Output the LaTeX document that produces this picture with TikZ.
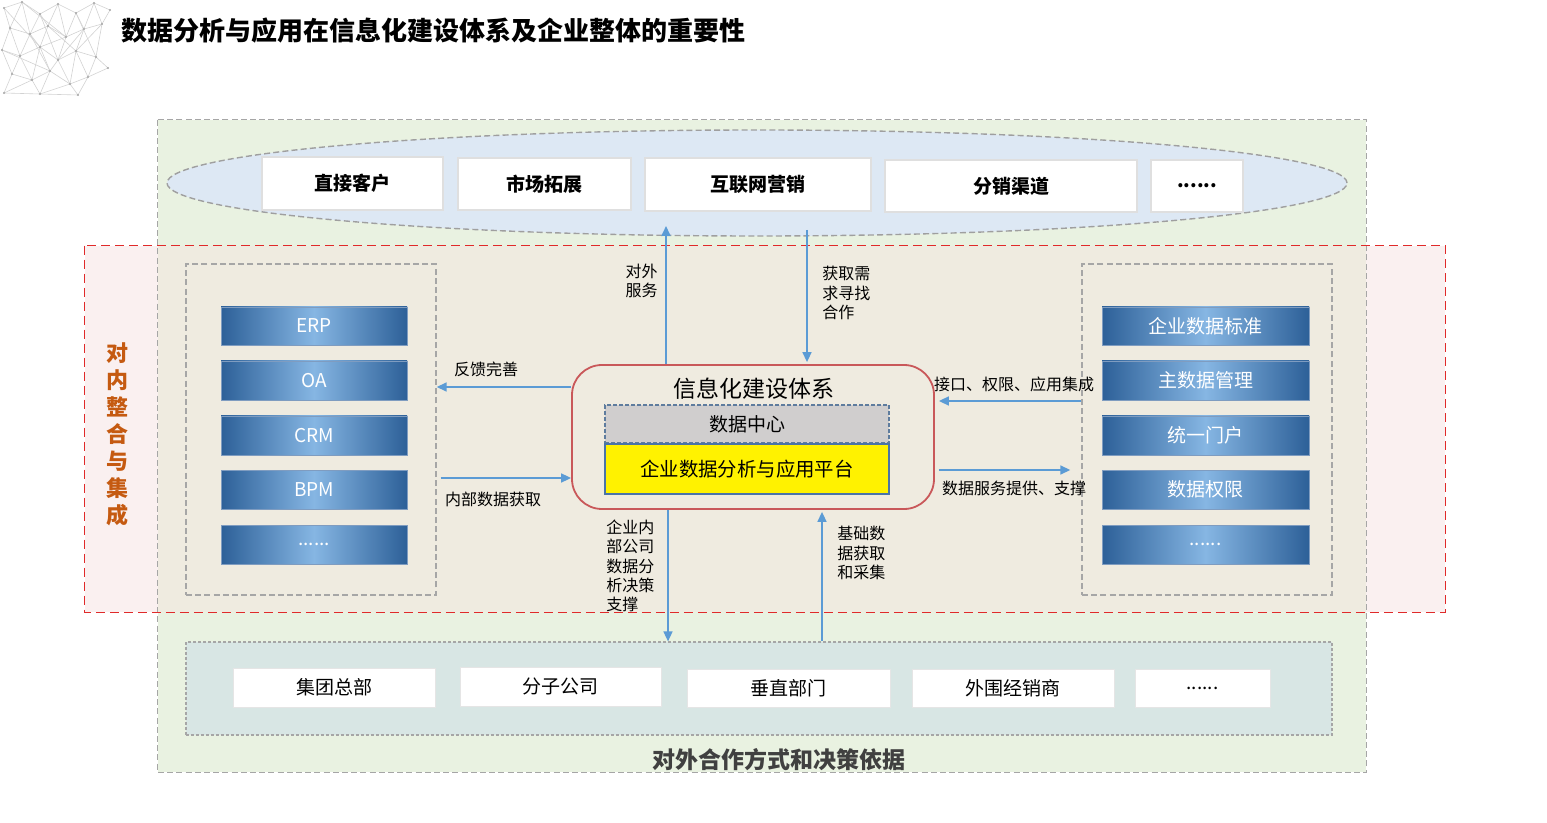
\documentclass[tikz,border=0pt]{standalone}
\usepackage{fontspec}
\setmainfont{Noto Sans CJK SC}
\usetikzlibrary{arrows.meta,fit,shapes.geometric}
\definecolor{pinkbg}{HTML}{FAF0F0}
\definecolor{greenbg}{HTML}{E9F2E1}
\definecolor{beigebg}{HTML}{EFEBE0}
\definecolor{ellbg}{HTML}{DDE8F4}
\definecolor{botbg}{HTML}{D8E6E4}
\definecolor{redd}{HTML}{E02A2A}
\definecolor{orangetxt}{HTML}{C55A11}
\definecolor{arrblue}{HTML}{5B9BD5}
\definecolor{cred}{HTML}{C9585A}
\definecolor{barDark}{HTML}{2D6098}
\definecolor{barMid}{HTML}{86B6E3}
\definecolor{barEdge}{HTML}{7F9CC0}
\definecolor{dcgray}{HTML}{D0CECE}
\definecolor{dcedge}{HTML}{5E7C9E}
\definecolor{yedge}{HTML}{4A74A8}
\definecolor{darktxt}{HTML}{404040}
\begin{document}
\begin{tikzpicture}[x=0.5pt,y=-0.5pt,
  meshline/.style={gray!35,line width=0.3pt},
  graydash/.style={draw=gray!70,line width=0.7pt,dash pattern=on 3pt off 1.6pt},
  reddash/.style={draw=redd,line width=0.8pt,dash pattern=on 4.5pt off 2.5pt},
  topbox/.style={inner sep=0,fill=white,draw=gray!25,line width=0.6pt},
  toptxt/.style={inner sep=0,font=\bfseries\fontsize{9.5pt}{11pt}\selectfont},
  bar/.style={inner sep=0,draw=barEdge,line width=0.4pt,left color=barDark,right color=barDark,middle color=barMid},
  bartxt/.style={inner sep=0,text=white,font=\fontsize{9.5pt}{11pt}\selectfont},
  botbox/.style={inner sep=0,fill=white,draw=gray!20,line width=0.5pt},
  bottxt/.style={inner sep=0,font=\fontsize{9.5pt}{11pt}\selectfont},
  lab/.style={inner sep=0,align=left,font=\fontsize{8pt}{9.6pt}\selectfont},
  arr/.style={draw=arrblue,line width=0.8pt,-{Triangle[length=5pt,width=4.5pt]}},
]
\useasboundingbox (0,0) rectangle (1547,823);

% decorative mesh
\foreach \n/\x/\y in {1/4/8,2/22/2,3/40/14,4/58/4,5/76/13,6/94/3,7/110/10,
 8/10/28,9/30/34,10/48/26,11/66/37,12/84/29,13/102/24,
 14/2/50,15/20/56,16/40/47,17/58/60,18/76/51,19/96/57,
 20/12/74,21/32/80,22/50/71,23/70/84,24/88/77,25/108/68,
 26/4/93,27/40/94,28/78/95}
  \coordinate (p\n) at (\x,\y);
\foreach \a/\b in {1/2,2/3,3/4,4/5,5/6,6/7,8/9,9/10,10/11,11/12,12/13,
 14/15,15/16,16/17,17/18,18/19,20/21,21/22,22/23,23/24,24/25,26/27,27/28,
 1/8,2/8,2/9,3/9,3/10,4/10,4/11,5/11,5/12,6/12,6/13,7/13,
 8/14,8/15,9/15,9/16,10/16,11/16,11/17,12/17,12/18,13/18,13/19,
 14/20,15/20,15/21,16/21,16/22,17/22,17/23,18/23,18/24,19/24,19/25,
 20/26,21/26,21/27,22/27,23/27,23/28,24/28,1/16,3/17,9/22,10/18,5/19,2/11,14/22}
  \draw[meshline] (p\a) -- (p\b);
\foreach \n in {1,...,28} \fill[gray!70] (p\n) circle (0.6pt);

% title
\node[anchor=west,inner sep=0,font=\bfseries\fontsize{13pt}{15pt}\selectfont] (title) at (121,31) {数据分析与应用在信息化建设体系及企业整体的重要性};

% background zones
\node[fit={(85,246)(1445,612)},inner sep=0,fill=pinkbg] (redzone) {};
\node[fit={(158,120)(1366,772)},inner sep=0,fill=greenbg] (outer) {};
\fill[beigebg] (outer.west |- redzone.north) rectangle (outer.east |- redzone.south);
\draw[graydash] (outer.north west) rectangle (outer.south east);
\draw[reddash] (redzone.north west) rectangle (redzone.south east);

% vertical label
\node[inner sep=0,align=center,text=orangetxt,font=\bfseries\fontsize{11pt}{13.5pt}\selectfont] (vlab) at (117,434) {对\\内\\整\\合\\与\\集\\成};

% ellipse with external partners
\node[ellipse,fill=ellbg,draw=gray!75,line width=0.7pt,dash pattern=on 3pt off 1.6pt,minimum width=590pt,minimum height=53pt,inner sep=0] (ell) at (757,183) {};
\node[topbox,fit={(262,157)(443,210)}] (t1) {};
\node[topbox,fit={(458,158)(631,210)}] (t2) {};
\node[topbox,fit={(645,158)(871,211)}] (t3) {};
\node[topbox,fit={(885,160)(1137,212)}] (t4) {};
\node[topbox,fit={(1151,160)(1243,212)}] (t5) {};
\node[toptxt] (t1x) at (t1) {直接客户};
\node[toptxt] (t2x) at (t2) {市场拓展};
\node[toptxt] (t3x) at (t3) {互联网营销};
\node[toptxt] (t4x) at (t4) {分销渠道};
\node[toptxt] (t5x) at (t5) {......};

% left system group
\node[fit={(186,264)(436,595)},inner sep=0,graydash] (lbox) {};
\node[bar,fit={(221,307)(407,345)}] (l1) {};
\node[bar,fit={(221,361)(407,400)}] (l2) {};
\node[bar,fit={(221,416)(407,455)}] (l3) {};
\node[bar,fit={(221,470)(407,509)}] (l4) {};
\node[bar,fit={(221,525)(407,564)}] (l5) {};
\node[bartxt] (l1x) at (l1) {ERP};
\node[bartxt] (l2x) at (l2) {OA};
\node[bartxt] (l3x) at (l3) {CRM};
\node[bartxt] (l4x) at (l4) {BPM};
\node[bartxt] (l5x) at (l5) {......};

% right system group
\node[fit={(1082,264)(1332,595)},inner sep=0,graydash] (rbox) {};
\node[bar,fit={(1102,307)(1309,345)}] (r1) {};
\node[bar,fit={(1102,361)(1309,400)}] (r2) {};
\node[bar,fit={(1102,416)(1309,455)}] (r3) {};
\node[bar,fit={(1102,470)(1309,509)}] (r4) {};
\node[bar,fit={(1102,525)(1309,564)}] (r5) {};
\node[bartxt] (r1x) at (r1) {企业数据标准};
\node[bartxt] (r2x) at (r2) {主数据管理};
\node[bartxt] (r3x) at (r3) {统一门户};
\node[bartxt] (r4x) at (r4) {数据权限};
\node[bartxt] (r5x) at (r5) {......};

% center
\node[fit={(572,365)(934,509)},inner sep=0,draw=cred,line width=0.9pt,rounded corners=15pt,fill=beigebg] (cbox) {};
\node[inner sep=0,font=\fontsize{11.5pt}{13pt}\selectfont] (ctitle) at (754,389) {信息化建设体系};
\node[fit={(605,405)(889,443)},inner sep=0,fill=dcgray,draw=dcedge,line width=0.6pt,dash pattern=on 2pt off 1pt] (dc) {};
\node[fit={(605,444)(889,494)},inner sep=0,fill=yellow,draw=yedge,line width=0.7pt] (plat) {};
\node[bottxt] (dcx) at (dc) {数据中心};
\node[inner sep=0,font=\fontsize{9.7pt}{11pt}\selectfont] (platx) at (plat) {企业数据分析与应用平台};

% bottom group
\node[fit={(186,642)(1332,735)},inner sep=0,fill=botbg,draw=gray!70,line width=0.6pt,dash pattern=on 1.5pt off 1pt] (bbox) {};
\node[botbox,fit={(233,668)(435,707)}] (b1) {};
\node[botbox,fit={(460,667)(661,706)}] (b2) {};
\node[botbox,fit={(687,669)(890,707)}] (b3) {};
\node[botbox,fit={(912,669)(1114,707)}] (b4) {};
\node[botbox,fit={(1135,669)(1270,707)}] (b5) {};
\node[bottxt] (b1x) at (b1) {集团总部};
\node[bottxt] (b2x) at (b2) {分子公司};
\node[bottxt] (b3x) at (b3) {垂直部门};
\node[bottxt] (b4x) at (b4) {外围经销商};
\node[bottxt] (b5x) at (b5) {......};
\node[inner sep=0,text=darktxt,font=\bfseries\fontsize{11.5pt}{13pt}\selectfont] (blab) at (779,760) {对外合作方式和决策依据};

% connectors
\coordinate (upA) at (666,226);
\coordinate (dnA) at (807,230);
\coordinate (fbY) at (0,387);
\coordinate (inY) at (0,478);
\coordinate (ifY) at (0,401);
\coordinate (dsY) at (0,470);
\coordinate (dnB) at (668,0);
\coordinate (upB) at (822,0);
\draw[arr] (cbox.north -| upA) -- (upA);
\draw[arr] (dnA) -- ([yshift=1pt]cbox.north -| dnA);
\draw[arr] (cbox.west |- fbY) -- (lbox.east |- fbY);
\draw[arr] ([xshift=2pt]lbox.east |- inY) -- (cbox.west |- inY);
\draw[arr] (rbox.west |- ifY) -- ([xshift=2pt]cbox.east |- ifY);
\draw[arr] ([xshift=2pt]cbox.east |- dsY) -- ([xshift=-5.5pt]rbox.west |- dsY);
\draw[arr] (cbox.south -| dnB) -- (bbox.north -| dnB);
\draw[arr] (bbox.north -| upB) -- ([yshift=-1pt]cbox.south -| upB);

% connector labels
\node[lab,anchor=east] (l_out) at (658,281) {对外\\服务};
\node[lab,anchor=west] (l_need) at (822,293) {获取需\\求寻找\\合作};
\node[lab] (l_fb) at (486,369) {反馈完善};
\node[lab] (l_in) at (493,499) {内部数据获取};
\node[lab] (l_if) at (1014,384) {接口、权限、应用集成};
\node[lab] (l_ds) at (1014,488) {数据服务提供、支撑};
\node[lab,anchor=west] (l_dec) at (606,566) {企业内\\部公司\\数据分\\析决策\\支撑};
\node[lab,anchor=west] (l_base) at (837,553) {基础数\\据获取\\和采集};
\end{tikzpicture}
\end{document}
